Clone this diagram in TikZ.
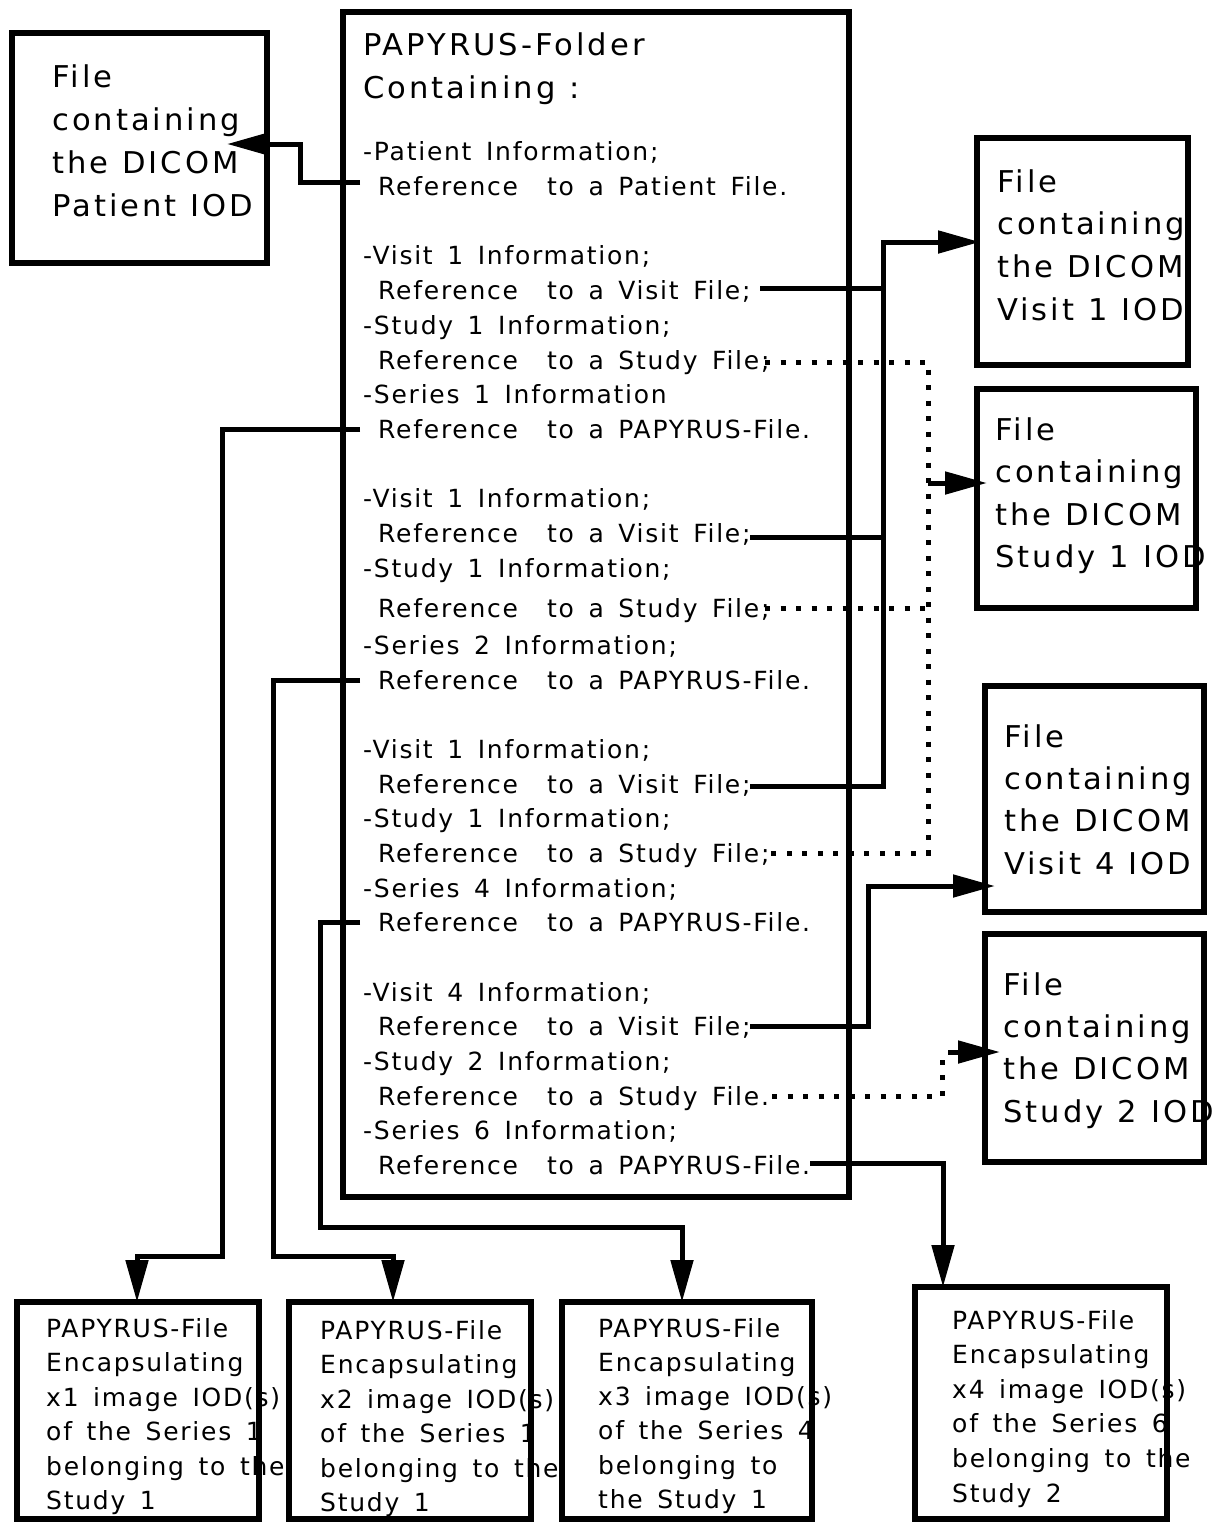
\documentclass[tikz,border=0pt]{standalone}
\usepackage{fontspec}
\setmainfont{DejaVu Sans}
\newfontfamily\bigfont[LetterSpace=10,FakeStretch=1.02,WordSpace=1.1]{DejaVu Sans}
\newfontfamily\smallfont[LetterSpace=7,WordSpace=1.5]{DejaVu Sans}
\usetikzlibrary{arrows.meta}
\begin{document}
\begin{tikzpicture}[x=1pt,y=-1pt,
  box/.style={draw, line width=5.5pt, rectangle, inner sep=0pt, outer sep=0pt, anchor=north west},
  big/.style={font=\bigfont\fontsize{30}{43}\selectfont, inner sep=0pt, anchor=base west},
  sm/.style={font=\smallfont\fontsize{25}{35}\selectfont, inner sep=0pt, anchor=base west},
  conn/.style={line width=5pt},
  dotconn/.style={line width=5pt, dash pattern=on 5pt off 10.5pt},
  headed/.style={-{Triangle[length=42pt,width=22pt]}}
]
\useasboundingbox (0,0) rectangle (1219,1523);

% ---------- texts ----------
\foreach \s [count=\k from 0] in {File,containing,the DICOM,Patient IOD}
  \node[big] (tp\k) at (52,87+43*\k) {\s};
\node[big] (tf0) at (363,55) {PAPYRUS-Folder};
\node[big] (tf1) at (363,98) {Containing :};
\foreach \xx/\yy/\s [count=\k] in {
  363/160/-Patient Information;,
  378/195/Reference~ to a Patient File.,
  363/264/-Visit 1 Information;,
  378/299/Reference~ to a Visit File;,
  363/334/-Study 1 Information;,
  378/369/Reference~ to a Study File;,
  363/403/-Series 1 Information,
  378/438/Reference~ to a PAPYRUS-File.,
  363/507/-Visit 1 Information;,
  378/542/Reference~ to a Visit File;,
  363/577/-Study 1 Information;,
  378/617/Reference~ to a Study File;,
  363/654/-Series 2 Information;,
  378/689/Reference~ to a PAPYRUS-File.,
  363/758/-Visit 1 Information;,
  378/793/Reference~ to a Visit File;,
  363/827/-Study 1 Information;,
  378/862/Reference~ to a Study File;,
  363/897/-Series 4 Information;,
  378/931/Reference~ to a PAPYRUS-File.,
  363/1001/-Visit 4 Information;,
  378/1035/Reference~ to a Visit File;,
  363/1070/-Study 2 Information;,
  378/1105/Reference~ to a Study File.,
  363/1139/-Series 6 Information;,
  378/1174/Reference~ to a PAPYRUS-File.}
  \node[sm] (tm\k) at (\xx,\yy) {\s};
\foreach \s [count=\k from 0] in {File,containing,the DICOM,Visit 1 IOD}
  \node[big] (tv\k) at (997,192+42.7*\k) {\s};
\foreach \s [count=\k from 0] in {File,containing,the DICOM,Study 1 IOD}
  \node[big] (ts\k) at (995,440+42.5*\k) {\s};
\foreach \s [count=\k from 0] in {File,containing,the DICOM,Visit 4 IOD}
  \node[big] (tw\k) at (1004,747+42.4*\k) {\s};
\foreach \s [count=\k from 0] in {File,containing,the DICOM,Study 2 IOD}
  \node[big] (tt\k) at (1003,995+42.4*\k) {\s};
\foreach \s [count=\k from 0] in {PAPYRUS-File,Encapsulating,x1 image IOD(s),of the Series 1,belonging to the,Study 1}
  \node[sm] (ta\k) at (46,1337+34.5*\k) {\s};
\foreach \s [count=\k from 0] in {PAPYRUS-File,Encapsulating,x2 image IOD(s),of the Series 1,belonging to the,Study 1}
  \node[sm] (tb\k) at (320,1339+34.5*\k) {\s};
\foreach \s [count=\k from 0] in {PAPYRUS-File,Encapsulating,x3 image IOD(s),of the Series 4,belonging to,the Study 1}
  \node[sm] (tc\k) at (598,1337+34.3*\k) {\s};
\foreach \s [count=\k from 0] in {PAPYRUS-File,Encapsulating,x4 image IOD(s),of the Series 6,belonging to the,Study 2}
  \node[sm] (td\k) at (952,1329+34.6*\k) {\s};

% ---------- boxes ----------
\node[box, minimum width=255pt, minimum height=230pt] (pat) at (12,33) {};
\node[box, minimum width=506pt, minimum height=1185pt] (main) at (343,12) {};
\node[box, minimum width=211pt, minimum height=227pt] (v1) at (977,138) {};
\node[box, minimum width=219pt, minimum height=219pt] (s1) at (977,389) {};
\node[box, minimum width=219pt, minimum height=226pt] (v4) at (985,686) {};
\node[box, minimum width=219pt, minimum height=228pt] (s2) at (985,934) {};
\node[box, minimum width=242pt, minimum height=217pt] (b1) at (17,1302) {};
\node[box, minimum width=242pt, minimum height=217pt] (b2) at (289,1302) {};
\node[box, minimum width=250pt, minimum height=217pt] (b3) at (562,1302) {};
\node[box, minimum width=252pt, minimum height=232pt] (b4) at (915,1287) {};

% ---------- connector start points ----------
\coordinate (sPat) at (360,182);
\coordinate (sV1) at (760,288);
\coordinate (sV2) at (750,537);
\coordinate (sV3) at (750,786);
\coordinate (sV4) at (750,1026);
\coordinate (sS1) at (765,362);
\coordinate (sS2) at (765,608);
\coordinate (sS3) at (765,853);
\coordinate (sS4) at (772,1096);
\coordinate (sR1) at (360,429);
\coordinate (sR2) at (360,680);
\coordinate (sR4) at (360,922);
\coordinate (sR6) at (810,1163);
\coordinate (jS1) at (928,483);
\coordinate (jS2) at (948,1052);

% ---------- connectors ----------
\draw[conn,headed] (sPat) -- (300,182) -- (300,144) -- (227,144);
\draw[conn] (sV1) -- (883,288);
\draw[conn] (sV2) -- (883,537);
\draw[conn,headed] (sV3) -- (883,786) -- (883,242) -- ([xshift=3pt]v1.west |- 0,242);
\draw[dotconn] (sS1) -- (928,362) -- (928,853) -- (sS3);
\draw[dotconn] (sS2) -- (928,608);
\draw[conn,headed] (jS1) -- ([xshift=10pt]s1.west |- jS1);
\draw[conn,headed] (sV4) -- (868,1026) -- (868,886) -- ([xshift=10pt]v4.west |- 0,886);
\draw[dotconn] (sS4) -- (942,1096) -- (942,1050);
\draw[conn,headed] (jS2) -- ([xshift=15pt]s2.west |- jS2);
\draw[conn,headed] (sR1) -- (222,429) -- (222,1256) -- (137,1256) -- (137,0 |- b1.north);
\draw[conn,headed] (sR2) -- (273,680) -- (273,1256) -- (393,1256) -- (393,0 |- b2.north);
\draw[conn,headed] (sR4) -- (320,922) -- (320,1227) -- (682,1227) -- (682,0 |- b3.north);
\draw[conn,headed] (sR6) -- (943,1163) -- (943,0 |- b4.north);
\end{tikzpicture}
\end{document}
